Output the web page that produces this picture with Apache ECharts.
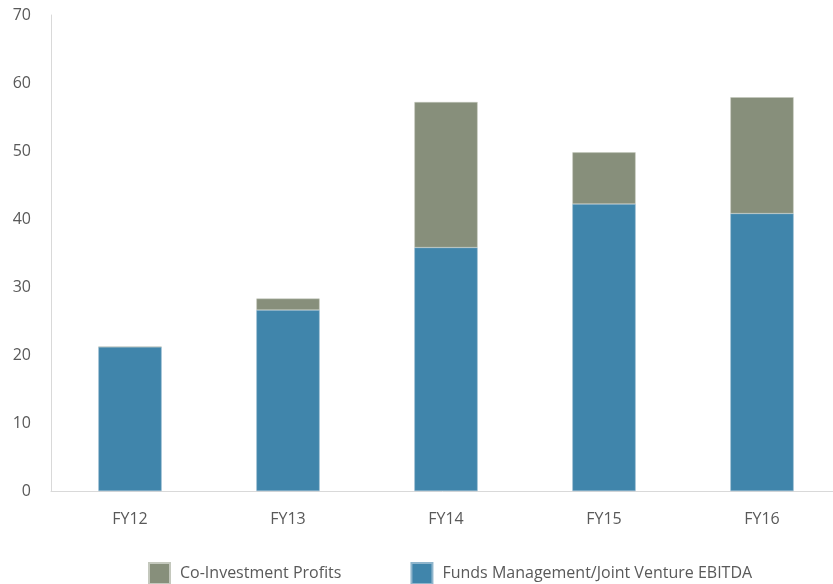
<!DOCTYPE html>
<html>
<head>
<meta charset="utf-8">
<script src="https://cdn.jsdelivr.net/npm/echarts@6/dist/echarts.min.js"></script>
<style>
  html, body { margin: 0; padding: 0; background: #fff; }
  #chart { width: 833px; height: 584px; }
</style>
</head>
<body>
<div id="chart"></div>
<script>
// data
const categories = ['FY12', 'FY13', 'FY14', 'FY15', 'FY16']
const fundsEbitda = [21.2, 26.6, 35.8, 42.2, 40.8]
const coInvestment = [0, 1.7, 21.4, 7.6, 17.1]
const yTicks = { min: 0, max: 70, interval: 10 }

const textColor = '#595959'
const font = 'Open Sans'

let chart = echarts.init(document.getElementById('chart'))
chart.setOption({
  animation: false,
  textStyle: { fontFamily: font },
  grid: { left: 51, width: 790, top: 15, bottom: 93, outerBoundsMode: 'none', containLabel: false },
  legend: {
    left: 143,
    top: 557,
    itemWidth: 21,
    itemHeight: 21,
    itemGap: 69,
    icon: 'rect',
    textStyle: { color: textColor, fontSize: 16, fontFamily: font, padding: [0, 0, 0, 5] },
    data: ['Co-Investment Profits', 'Funds Management/Joint Venture EBITDA']
  },
  xAxis: {
    type: 'category',
    data: categories,
    axisLine: { lineStyle: { color: '#d9d9d9' } },
    axisTick: { show: false },
    axisLabel: { color: textColor, fontSize: 16, margin: 20 }
  },
  yAxis: {
    type: 'value',
    min: yTicks.min,
    max: yTicks.max,
    interval: yTicks.interval,
    splitLine: { show: false },
    axisLine: { show: true, lineStyle: { color: '#d9d9d9' } },
    axisTick: { show: false },
    axisLabel: { color: textColor, fontSize: 16, margin: 20 }
  },
  series: [
    {
      name: 'Funds Management/Joint Venture EBITDA',
      type: 'bar',
      stack: 'total',
      barWidth: '40%',
      itemStyle: { color: '#4085ab', borderColor: '#8fb5cc', borderWidth: 0.5 },
      data: fundsEbitda
    },
    {
      name: 'Co-Investment Profits',
      type: 'bar',
      stack: 'total',
      barWidth: '40%',
      itemStyle: { color: '#878f7b', borderColor: '#c4c8bd', borderWidth: 0.5 },
      data: coInvestment
    }
  ]
})
</script>
</body>
</html>
